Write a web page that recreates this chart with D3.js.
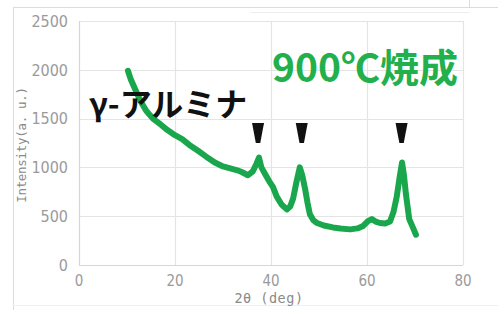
<!DOCTYPE html>
<html><head><meta charset="utf-8">
<script src="https://cdn.jsdelivr.net/npm/d3@7"></script>
<style>
html,body{margin:0;padding:0;background:#fff;}
svg{display:block;}
</style></head>
<body>
<svg id="chart" width="498" height="310"></svg>
<script>
const twoTheta = [10.2,10.8,11.7,12.8,14.0,15.4,17.0,18.5,20.0,21.5,23.0,24.8,26.5,28.3,30.0,31.9,33.0,34.0,35.2,36.2,37.0,37.5,38.0,38.8,39.6,40.4,41.2,42.2,43.3,44.0,44.6,45.3,46.0,46.5,47.1,47.6,48.1,48.8,49.6,51.0,52.9,54.5,56.5,58.0,59.2,60.2,61.0,61.8,62.7,63.8,64.8,65.5,66.2,66.8,67.3,67.7,68.1,68.8,69.6,70.2];
const intensity = [1990,1900,1800,1680,1580,1500,1440,1380,1330,1290,1230,1170,1110,1050,1010,985,970,950,920,960,1040,1100,1000,930,860,800,700,620,570,600,680,850,1000,920,780,640,520,460,430,405,385,375,365,375,400,450,470,445,430,425,445,540,700,900,1050,920,730,470,380,310];
const xTicks = [0,20,40,60,80];
const yTicks = [0,500,1000,1500,2000,2500];
const peakMarks = [37.3,46.4,67.2];
const labelPhase = "γ-アルミナ";
const labelTemp = "900℃焼成";
const xTitle = "2θ (deg)";
const yTitle = "Intensity(a. u.)";

const svg = d3.select("#chart");
const x = d3.scaleLinear().domain([0,80]).range([79,463]);
const y = d3.scaleLinear().domain([0,2500]).range([265,21]);

// outer frame lines
svg.append("line").attr("x1",13.5).attr("x2",13.5).attr("y1",7).attr("y2",310).attr("stroke","#dcdcdc");
svg.append("line").attr("x1",13).attr("x2",498).attr("y1",7.5).attr("y2",7.5).attr("stroke","#dcdcdc");
svg.append("line").attr("x1",469.5).attr("x2",469.5).attr("y1",0).attr("y2",7).attr("stroke","#dcdcdc");
svg.append("line").attr("x1",250).attr("x2",470).attr("y1",12.5).attr("y2",12.5).attr("stroke","#eeeeee");
svg.append("line").attr("x1",13).attr("x2",498).attr("y1",305.5).attr("y2",305.5).attr("stroke","#f0f0f0");

// grid
svg.append("g").selectAll("line").data(yTicks).join("line")
  .attr("x1",x(0)).attr("x2",x(80)).attr("y1",d=>Math.round(y(d))+0.5).attr("y2",d=>Math.round(y(d))+0.5)
  .attr("stroke",d=>d===0?"#d6d6d6":"#e4e4e4").attr("stroke-width",1.2);
svg.append("g").selectAll("line").data(xTicks).join("line")
  .attr("y1",y(0)).attr("y2",y(2500)).attr("x1",d=>Math.round(x(d))+0.5).attr("x2",d=>Math.round(x(d))+0.5)
  .attr("stroke",d=>d===0?"#d6d6d6":"#e4e4e4").attr("stroke-width",1.2);

// tick labels
const tickFont = "'Liberation Sans Narrow','DejaVu Sans Condensed',sans-serif";
svg.append("g").selectAll("text").data(yTicks).join("text")
  .attr("x",68).attr("y",d=>y(d)).attr("dy","0.36em").attr("text-anchor","end")
  .attr("font-family",tickFont).attr("font-size",16).attr("fill","#9a9a9a").text(d=>d);
svg.append("g").selectAll("text").data(xTicks).join("text")
  .attr("x",d=>x(d)).attr("y",281).attr("dy","0.36em").attr("text-anchor","middle")
  .attr("font-family",tickFont).attr("font-size",15).attr("fill","#9a9a9a").text(d=>d);

// axis titles
svg.append("text").attr("transform","translate(26,145) rotate(-90)").attr("text-anchor","middle")
  .attr("font-family","'DejaVu Sans Mono',monospace").attr("font-size",12.5).attr("letter-spacing",-0.3).attr("fill","#8a8a8a").text(yTitle);
svg.append("text").attr("x",269).attr("y",303).attr("text-anchor","middle")
  .attr("font-family","'DejaVu Sans Mono',monospace").attr("font-size",13.5).attr("letter-spacing",0.5).attr("fill","#8a8a8a").text(xTitle);

// data line
const pts = twoTheta.map((t,i)=>[t,intensity[i]]);
const line = d3.line().x(d=>x(d[0])).y(d=>y(d[1])).curve(d3.curveLinear);
svg.append("path").datum(pts).attr("d",line).attr("fill","none")
  .attr("stroke","#1aa64c").attr("stroke-width",6).attr("stroke-linejoin","round").attr("stroke-linecap","round");

// peak markers
svg.append("g").selectAll("path").data(peakMarks).join("path")
  .attr("transform",d=>`translate(${x(d)},123)`)
  .attr("d","M-6,0 L6,0 L2.2,20 L-2.2,20 Z").attr("fill","#111");

// annotations
svg.append("text").attr("x",89).attr("y",116)
  .attr("font-family","'Noto Sans CJK JP',sans-serif").attr("font-weight",700).attr("font-size",32)
  .attr("fill","#111").text(labelPhase);
svg.append("text").attr("x",272).attr("y",82)
  .attr("font-family","'Noto Sans CJK JP',sans-serif").attr("font-weight",700).attr("font-size",39)
  .attr("fill","#22b04c").text(labelTemp);
</script>
</body></html>
